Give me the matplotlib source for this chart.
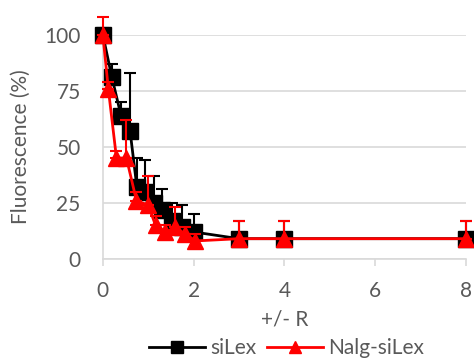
import matplotlib.pyplot as plt
from matplotlib.lines import Line2D

# siLex series
silex_x = [0, 0.2, 0.4, 0.6, 0.75, 0.93, 1.12, 1.3, 1.52, 1.75, 2.0, 3, 4, 8]
silex_y = [100, 81, 64, 57, 32, 30, 25, 22, 17, 14, 12, 9, 9, 9]
silex_err = [3, 6, 6, 26, 13, 14, 12, 9, 8, 10, 8, 8, 8, 8]

# Nalg-siLex series
nalg_x = [0, 0.12, 0.3, 0.52, 0.74, 1.0, 1.16, 1.38, 1.6, 1.82, 2.04, 3, 4, 8]
nalg_y = [100, 76, 45, 45, 26, 24, 15, 12, 14, 11, 8, 9, 9, 9]
nalg_err = [8, 3, 3, 17, 4, 13, 4, 3, 9, 3, 3, 8, 8, 8]

x_ticks = [0, 2, 4, 6, 8]
y_ticks = [0, 25, 50, 75, 100]

plt.rcParams['font.family'] = ['Lato', 'DejaVu Sans']
gray = '#595959'

fig = plt.figure(figsize=(4.74, 3.6), dpi=100)
ax = fig.add_axes([0.217, 0.281, 0.766, 0.622])

ax.errorbar(silex_x, silex_y, yerr=[[0] * len(silex_err), silex_err],
            color='black', marker='s', markersize=11, linewidth=2,
            elinewidth=1.5, capsize=4, capthick=1.5,
            clip_on=False, zorder=3)
ax.errorbar(nalg_x, nalg_y, yerr=[[0] * len(nalg_err), nalg_err],
            color='red', marker='^', markersize=12, linewidth=2,
            elinewidth=1.5, capsize=4, capthick=1.5,
            clip_on=False, zorder=4)

ax.set_xlim(0, 8)
ax.set_ylim(0, 100)
ax.set_xticks(x_ticks)
ax.set_yticks(y_ticks)
ax.grid(axis='y', color='#d9d9d9', linewidth=1.2)
ax.set_axisbelow(True)

for s in ['top', 'right']:
    ax.spines[s].set_visible(False)
for s in ['bottom', 'left']:
    ax.spines[s].set_color('#d9d9d9')
    ax.spines[s].set_linewidth(1.2)

ax.tick_params(axis='x', colors='#d9d9d9', length=5, width=1.2, labelcolor=gray, labelsize=15, pad=11)
ax.tick_params(axis='y', length=0, labelcolor=gray, labelsize=15, pad=16)

ax.set_xlabel('+/- R', color=gray, fontsize=15, labelpad=6)
ax.set_ylabel('Fluorescence (%)', color=gray, fontsize=15, labelpad=10)

handles = [
    Line2D([], [], color='black', marker='s', markersize=9, linewidth=2),
    Line2D([], [], color='red', marker='^', markersize=9, linewidth=2),
]
leg = fig.legend(handles, ['siLex', 'Nalg-siLex'], loc='center',
                 bbox_to_anchor=(0.605, 0.033), ncol=2, frameon=False,
                 fontsize=15, handlelength=2.7, columnspacing=0.5,
                 handletextpad=0.25, borderaxespad=0, borderpad=0)
for t in leg.get_texts():
    t.set_color(gray)

fig.savefig('out.png', dpi=100)
